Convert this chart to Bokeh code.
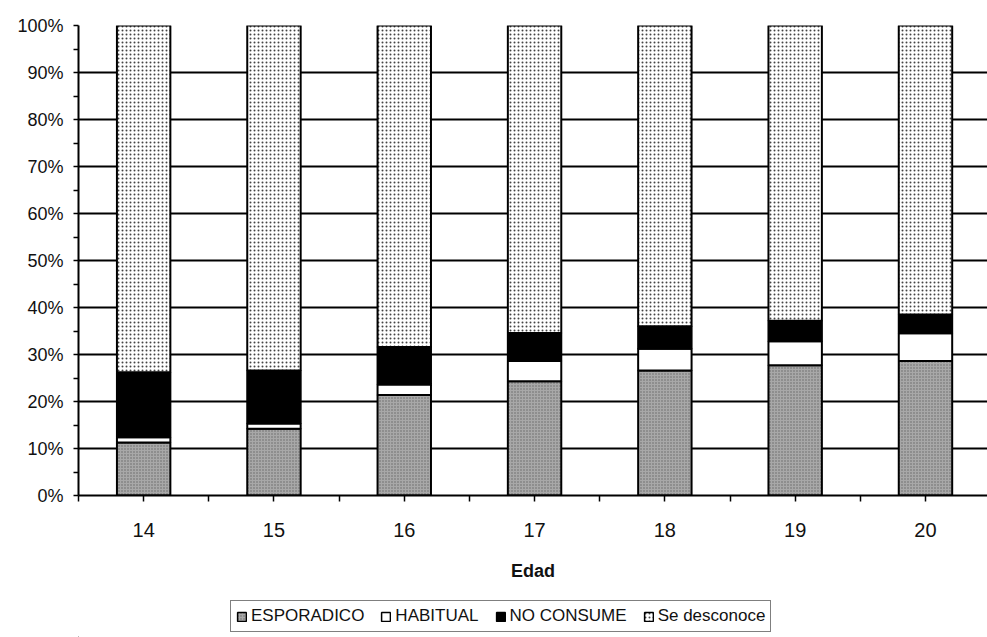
from bokeh.plotting import figure
from bokeh.models import FixedTicker, PrintfTickFormatter, Legend, ColumnDataSource
from bokeh.transform import stack
from bokeh.layouts import column
from bokeh.embed import file_html
from bokeh.resources import INLINE

edades = [14, 15, 16, 17, 18, 19, 20]
esporadico = [11.3, 14.2, 21.4, 24.3, 26.6, 27.7, 28.6]
habitual = [1.1, 1.1, 2.2, 4.3, 4.6, 5.1, 5.9]
no_consume = [13.8, 11.3, 8.0, 6.0, 4.8, 4.4, 4.0]
se_desconoce = [73.8, 73.4, 68.4, 65.4, 64.0, 62.8, 61.5]
y_ticks = list(range(0, 101, 10))
series_names = ["ESPORADICO", "HABITUAL", "NO CONSUME", "Se desconoce"]

FONT = "Liberation Sans"

p = figure(frame_width=909, frame_height=470, output_backend="svg", toolbar_location=None,
           x_range=(13.5, 20.476), y_range=(0, 100),
           min_border_left=78, min_border_top=25, min_border_right=0, min_border_bottom=100)
p.outline_line_color = None
p.background_fill_color = "white"
p.border_fill_color = "white"

src = ColumnDataSource(dict(x=edades, a=esporadico, b=habitual, c=no_consume, d=se_desconoce))

styles = [
    dict(fill_color="#a8a8a8", hatch_pattern="dot", hatch_color="#666666", hatch_scale=3, hatch_weight=1),
    dict(fill_color="white"),
    dict(fill_color="black"),
    dict(fill_color="white", hatch_pattern="dot", hatch_color="#444444", hatch_scale=4, hatch_weight=1.5),
]
keys = ["a", "b", "c", "d"]
for i, k in enumerate(keys):
    p.vbar(x="x", top=stack(*keys[:i + 1]), bottom=stack(*keys[:i]), width=0.41, source=src,
           line_color="black", line_width=2, **styles[i])

p.xaxis.ticker = FixedTicker(ticks=edades, minor_ticks=[e - 0.5 for e in edades] + [20.5])
p.xaxis.axis_label = "Edad"
p.xaxis.axis_label_text_font = FONT
p.xaxis.axis_label_text_font_style = "bold"
p.xaxis.axis_label_text_font_size = "18px"
p.xaxis.axis_label_text_color = "#111111"
p.xaxis.axis_label_standoff = 21
p.xaxis.major_label_text_font = FONT
p.xaxis.major_label_text_font_size = "20px"
p.xaxis.major_label_standoff = 21
p.xaxis.major_tick_out = 6
p.xaxis.major_tick_in = 0
p.xaxis.minor_tick_out = 6
p.xaxis.minor_tick_in = 0

p.yaxis.ticker = FixedTicker(ticks=y_ticks, minor_ticks=[t + 5 for t in y_ticks[:-1]])
p.yaxis.formatter = PrintfTickFormatter(format="%d%%")
p.yaxis.major_label_text_font = FONT
p.yaxis.major_label_text_font_size = "18px"
p.yaxis.major_label_standoff = 10
p.yaxis.major_tick_out = 5
p.yaxis.major_tick_in = 0
p.yaxis.minor_tick_out = 5
p.yaxis.minor_tick_in = 0

for ax in (p.xaxis, p.yaxis):
    ax.axis_line_color = "black"
    ax.axis_line_width = 2
    ax.major_tick_line_color = "black"
    ax.major_tick_line_width = 1.5
    ax.minor_tick_line_color = "black"
    ax.minor_tick_line_width = 1.5
    ax.major_label_text_color = "#111111"

p.xgrid.grid_line_color = None
p.ygrid.ticker = FixedTicker(ticks=y_ticks)
p.ygrid.grid_line_color = "black"
p.ygrid.grid_line_width = 2

# legend strip below the chart (swatch renderers kept outside the visible range)
q = figure(width=987, height=42, output_backend="svg", toolbar_location=None,
           x_range=(0, 1), y_range=(0, 1), x_axis_location=None, y_axis_location=None,
           min_border_left=0, min_border_right=0, min_border_top=0, min_border_bottom=0)
q.outline_line_color = None
q.grid.visible = False
swatch = ColumnDataSource(dict(x=[-5.0], top=[-5.0], bottom=[-6.0]))
legend_renderers = [q.vbar(x="x", top="top", bottom="bottom", width=0.1, source=swatch,
                           line_color="black", line_width=1.5, **st) for st in styles]
legend = Legend(items=[(n, [r]) for n, r in zip(series_names, legend_renderers)],
                orientation="horizontal", location=(152, 5))
legend.border_line_color = "black"
legend.border_line_width = 1.5
legend.label_text_font = FONT
legend.label_text_font_size = "17px"
legend.label_text_color = "#111111"
legend.label_standoff = 4
legend.glyph_width = 11
legend.glyph_height = 11
legend.spacing = 16
legend.padding = 5
legend.margin = 0
legend.label_height = 17
q.add_layout(legend, "center")

open("out.html", "w").write(file_html(column(p, q, spacing=0), INLINE))
